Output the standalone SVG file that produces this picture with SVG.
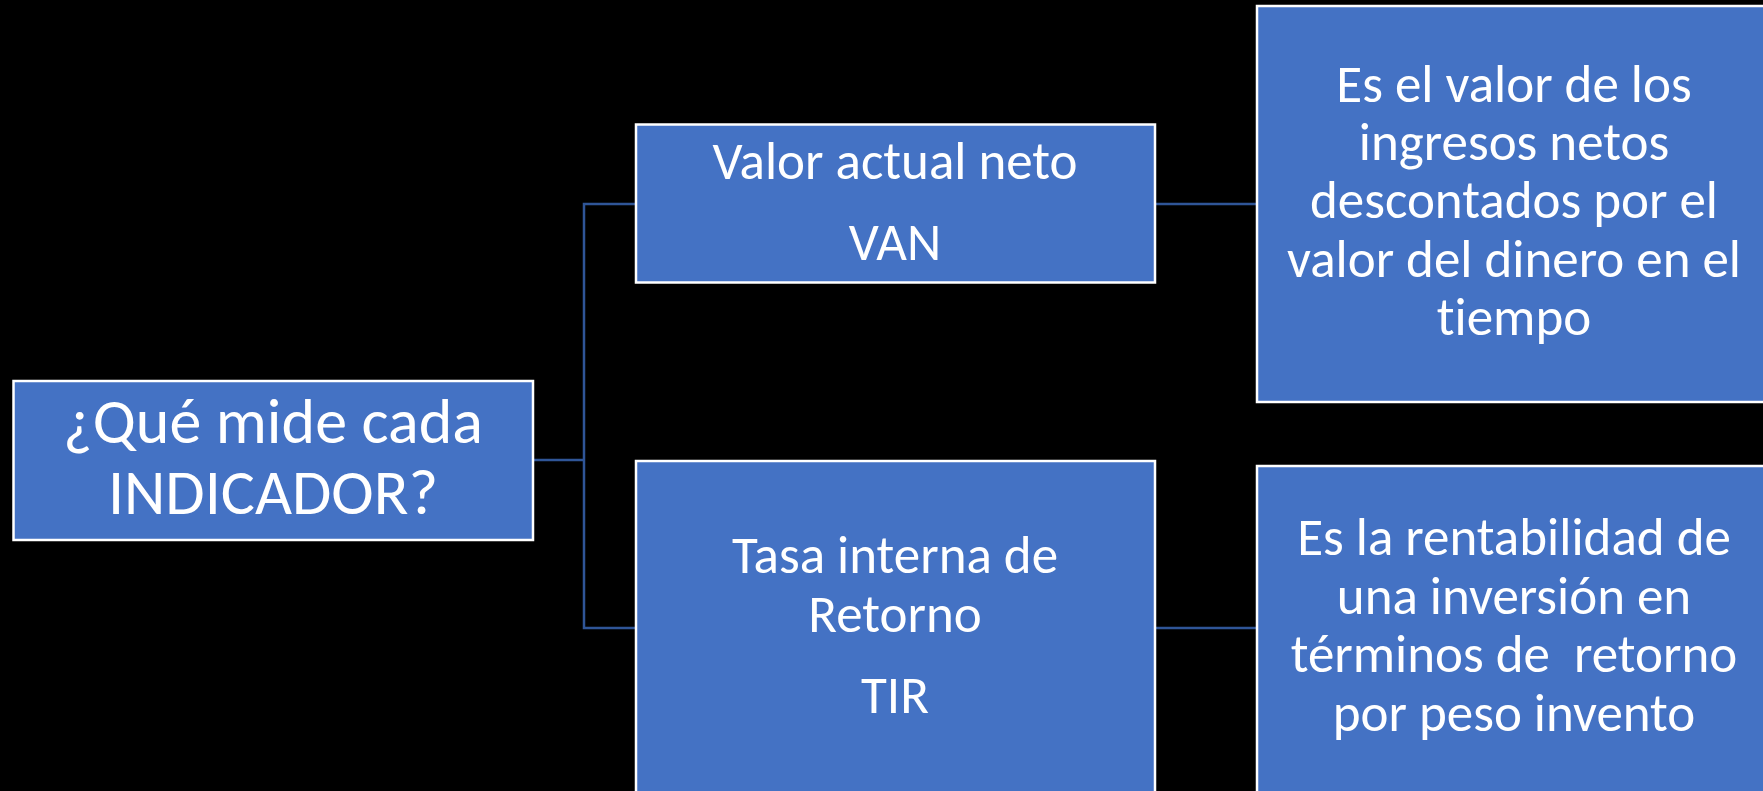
<svg xmlns="http://www.w3.org/2000/svg" width="1763" height="791" viewBox="0 0 1763 791">
<style>
.box{fill:#4472C4;stroke:#FFFFFF;stroke-width:2.5}
.conn{fill:none;stroke:#2F5597;stroke-width:2.5}
text{font-family:Carlito,Lato,"Liberation Sans",sans-serif;fill:#FFFFFF;text-anchor:middle;font-variant-ligatures:none}
.t1{font-size:64px}
.t2{font-size:53px}
.t3{font-size:53px}
</style>
<rect width="1763" height="791" fill="#000000"/>
<g id="connectors">
<polyline class="conn" points="533,460 584,460"/>
<polyline class="conn" points="636,204 584,204 584,628 636,628"/>
<line class="conn" x1="1155" y1="204" x2="1257" y2="204"/>
<line class="conn" x1="1155" y1="628" x2="1257" y2="628"/>
</g>
<g id="root">
<rect class="box" x="13.5" y="381" width="519.5" height="159"/>
<text class="t1" x="273" y="443">¿Qué mide cada</text>
<text class="t1" x="273" y="514">INDICADOR?</text>
</g>
<g id="van">
<rect class="box" x="636" y="124.5" width="519" height="158"/>
<text class="t2" x="895" y="179">Valor actual neto</text>
<text class="t2" x="895" y="260">VAN</text>
</g>
<g id="tir">
<rect class="box" x="636" y="461" width="519" height="345"/>
<text class="t2" x="895" y="573">Tasa interna de</text>
<text class="t2" x="895" y="632">Retorno</text>
<text class="t2" x="895" y="713">TIR</text>
</g>
<g id="desc-van">
<rect class="box" x="1257" y="6" width="514" height="396"/>
<text class="t3" x="1514" y="102">Es el valor de los</text>
<text class="t3" x="1514" y="160">ingresos netos</text>
<text class="t3" x="1514" y="218">descontados por el</text>
<text class="t3" x="1514" y="277">valor del dinero en el</text>
<text class="t3" x="1514" y="335">tiempo</text>
</g>
<g id="desc-tir">
<rect class="box" x="1257" y="466" width="514" height="340"/>
<text class="t3" x="1514" y="555">Es la rentabilidad de</text>
<text class="t3" x="1514" y="614">una inversión en</text>
<text class="t3" x="1514" y="672" xml:space="preserve">términos de  retorno</text>
<text class="t3" x="1514" y="731">por peso invento</text>
</g>
</svg>
